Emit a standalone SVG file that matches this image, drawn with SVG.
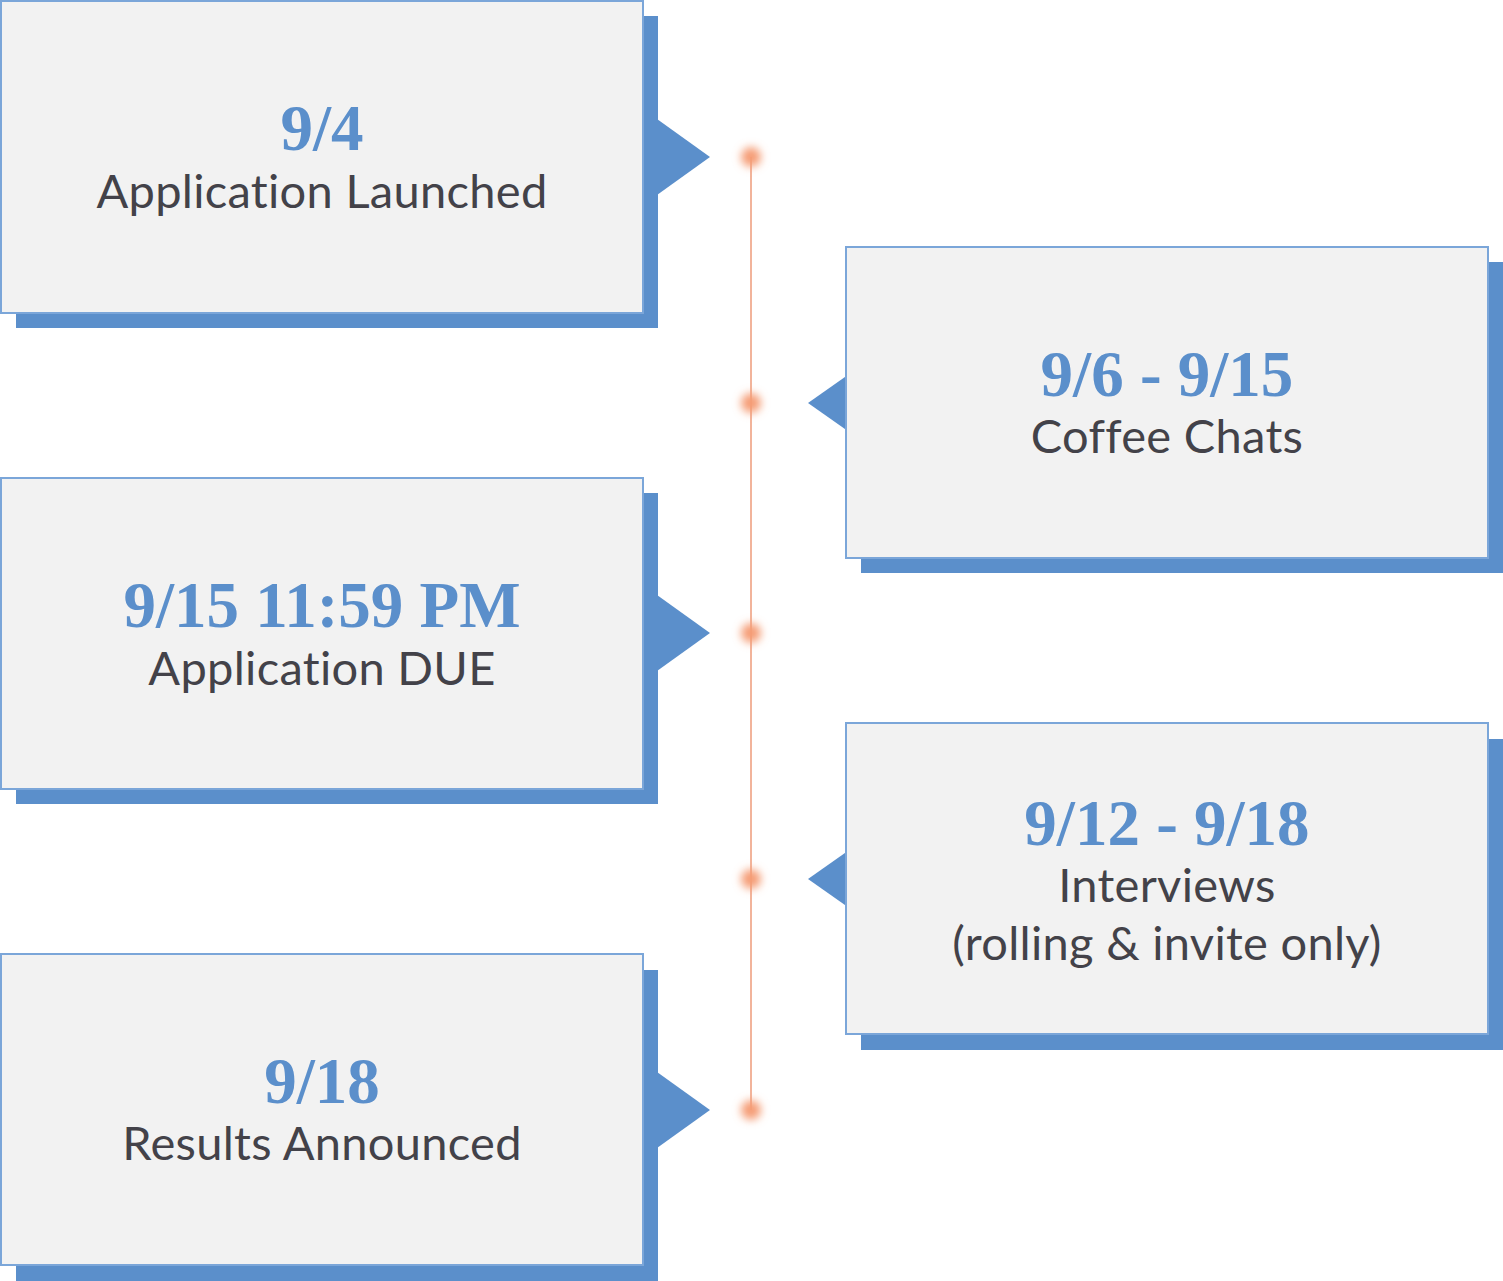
<svg xmlns="http://www.w3.org/2000/svg" width="1503" height="1281" viewBox="0 0 1503 1281">
<defs>
<style>
.card{fill:#f2f2f2;stroke:#7ba6d9;stroke-width:2}
.shadow{fill:#5b8fcb}
.date{font-family:"Liberation Serif","Times New Roman",serif;font-weight:bold;font-size:65px;fill:#5b8fcb;text-anchor:middle}
.label{font-family:Lato,"Noto Sans",sans-serif;font-size:47px;fill:#434249;text-anchor:middle;letter-spacing:0.3px}
.dot{fill:#f59c74;filter:url(#glow)}
.line{stroke:#f2b49b;stroke-width:2;fill:none}
</style>
<filter id="glow" x="-100%" y="-100%" width="300%" height="300%">
<feGaussianBlur stdDeviation="4"/>
</filter>
</defs>
<g id="connectors">
<line class="line" x1="751" y1="157" x2="751" y2="1110"/>
<circle class="dot" cx="751" cy="157" r="10"/>
<circle class="dot" cx="751" cy="403" r="10"/>
<circle class="dot" cx="751" cy="633" r="10"/>
<circle class="dot" cx="751" cy="879" r="10"/>
<circle class="dot" cx="751" cy="1110" r="10"/>
</g>
<g id="node1">
<rect class="shadow" x="16" y="16" width="642" height="312"/>
<polygon class="shadow" points="657,119 710,157 657,195"/>
<rect class="card" x="1" y="1" width="642" height="312"/>
<text class="date" x="322" y="150">9/4</text>
<text class="label" x="322" y="208">Application Launched</text>
</g>
<g id="node2">
<rect class="shadow" x="861" y="262" width="642" height="311"/>
<polygon class="shadow" points="862,365 808,403 862,441"/>
<rect class="card" x="846" y="247" width="642" height="311"/>
<text class="date" x="1167" y="396">9/6 - 9/15</text>
<text class="label" x="1167" y="453">Coffee Chats</text>
</g>
<g id="node3">
<rect class="shadow" x="16" y="493" width="642" height="311"/>
<polygon class="shadow" points="657,595 710,633 657,671"/>
<rect class="card" x="1" y="478" width="642" height="311"/>
<text class="date" x="322" y="627">9/15 11:59 PM</text>
<text class="label" x="322" y="685">Application DUE</text>
</g>
<g id="node4">
<rect class="shadow" x="861" y="739" width="642" height="311"/>
<polygon class="shadow" points="862,841 808,879 862,917"/>
<rect class="card" x="846" y="723" width="642" height="311"/>
<text class="date" x="1167" y="845">9/12 - 9/18</text>
<text class="label" x="1167" y="902">Interviews</text>
<text class="label" x="1167" y="960">(rolling &amp; invite only)</text>
</g>
<g id="node5">
<rect class="shadow" x="16" y="970" width="642" height="311"/>
<polygon class="shadow" points="657,1072 710,1110 657,1148"/>
<rect class="card" x="1" y="954" width="642" height="311"/>
<text class="date" x="322" y="1103">9/18</text>
<text class="label" x="322" y="1160">Results Announced</text>
</g>
</svg>
